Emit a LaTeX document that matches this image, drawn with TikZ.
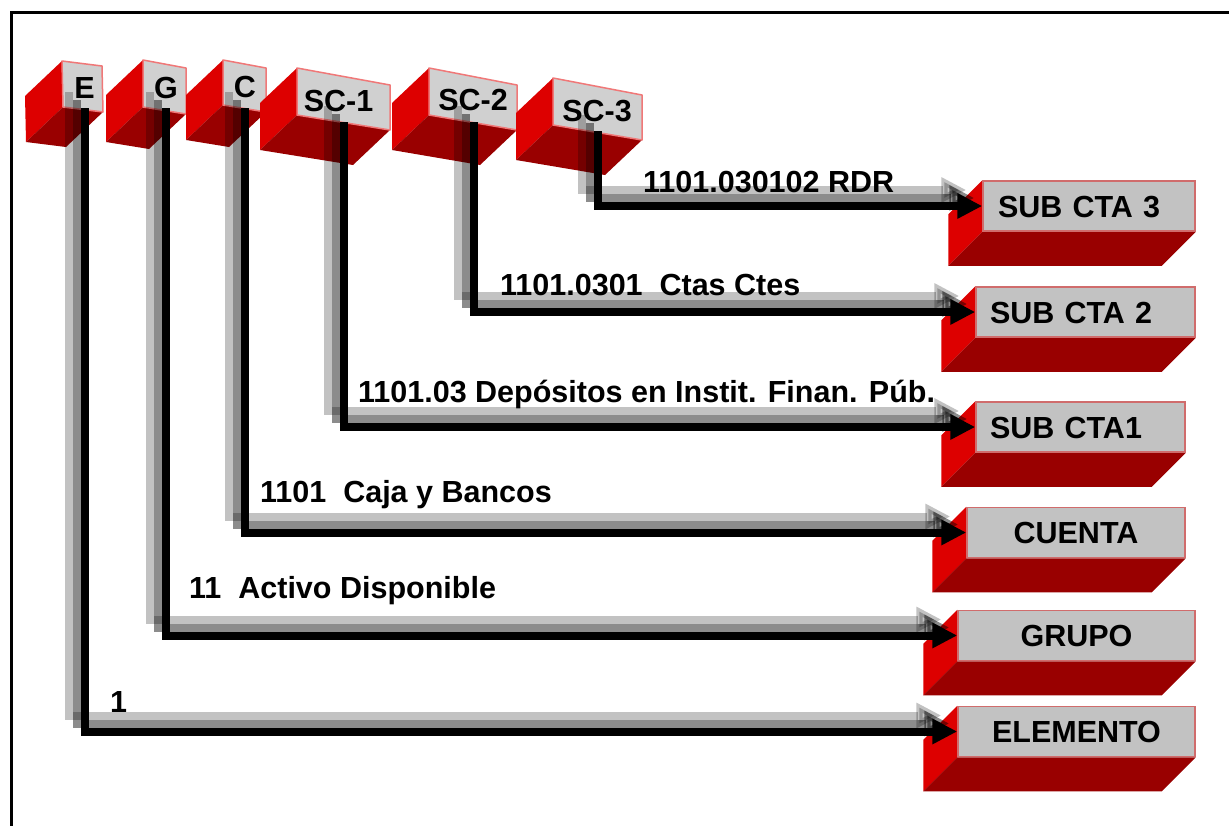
\documentclass[tikz,border=0pt]{standalone}
\usepackage{fontspec}
\setmainfont{Liberation Sans}
\usetikzlibrary{arrows.meta,calc}
\definecolor{redA}{HTML}{DD0000}
\definecolor{redB}{HTML}{990000}
\definecolor{faceT}{HTML}{D0D0D0}
\definecolor{faceR}{HTML}{C2C2C2}
\definecolor{edgeT}{HTML}{F07878}
\definecolor{edgeR}{HTML}{D06C6C}
\pgfdeclarelayer{bg}
\pgfsetlayers{bg,main}
\newcommand\mytopbox[8]{%
  \fill[redA] (#2) -- (#5) -- ($(#5)+(-37,35)$) -- ($(#2)+(-37,35)$) -- cycle;
  \fill[redB] (#5) -- (#4) -- ($(#4)+(-37,35)$) -- ($(#5)+(-37,35)$) -- cycle;
  \filldraw[fill=faceT, draw=edgeT, line width=1.5pt, line join=round] (#2) -- (#3) -- (#4) -- (#5) -- cycle;
  \node[toplbl] (#1) at (#6) {#7};
  \coordinate (#1b) at (#8);}
\newcommand\myrbox[6]{%
  \node[rface, text width=#3, inner xsep=#4, align=#5] (#1) at (#2) {#6};
  \begin{pgfonlayer}{bg}
  \fill[redA] (#1.north west) -- (#1.south west) -- ++(-34,34) -- ($(#1.north west)+(-34,34)$) -- cycle;
  \fill[redB] (#1.south west) -- (#1.south east) -- ++(-34,34) -- ($(#1.south west)+(-34,34)$) -- cycle;
  \end{pgfonlayer}}
\newcommand\myconn[2]{%
  \draw[shadowA] ([xshift=-16pt,yshift=16pt]#1) |- ([xshift=-16pt,yshift=16pt]#2);
  \draw[shadowB] ([xshift=-8pt,yshift=8pt]#1) |- ([xshift=-8pt,yshift=8pt]#2);
  \draw[connline] (#1) |- (#2);}
\begin{document}
\begin{tikzpicture}[x=1pt,y=-1pt,
  txt/.style={font=\fontsize{30.5}{36}\selectfont\bfseries},
  lbl/.style={txt, inner sep=0pt, anchor=base west},
  toplbl/.style={txt, inner sep=0pt, text height=22pt, text depth=0pt},
  rface/.style={txt, draw=edgeR, fill=faceR, line width=1.5pt, minimum height=50pt,
    inner ysep=0pt, text height=22pt, text depth=0pt},
  connline/.style={line width=8pt, -{Triangle[length=25pt,width=24pt]}},
  shadowA/.style={connline, opacity=0.24},
  shadowB/.style={connline, opacity=0.45}]
\begin{pgfonlayer}{bg}
\fill[white] (0,0) rectangle (1229,825);
\end{pgfonlayer}
\useasboundingbox (0,0) rectangle (1229,825);
\begin{scope}
  \clip (0,0) rectangle (1229,825);
  \draw[line width=3pt] (11.5,12.5) rectangle (1300,900);
\end{scope}

% top blocks
\mytopbox{E}{62,61}{102,66}{103,112}{63,107}{84.5,87}{E}{84.5,108}
\mytopbox{G}{143,60}{186,68}{186,114}{143,107}{166,87}{G}{165.5,108}
\mytopbox{C}{223,60}{266,68}{266,112}{223,105}{245,86}{C}{244.5,108}
\mytopbox{SCa}{297,68}{390,85}{390,130}{297,115}{338.5,100}{SC-1}{344,122}
\mytopbox{SCb}{429,68}{517,85}{517,130}{429,115}{473,99}{SC-2}{473.5,122}
\mytopbox{SCc}{553,78}{642,95}{642,140}{553,125}{597,110}{SC-3}{598,131}

% right blocks
\myrbox{s3}{1089,206}{182pt}{15pt}{left}{SUB CTA 3}
\myrbox{s2}{1085.5,312}{191pt}{14pt}{left}{SUB CTA 2}
\myrbox{s1}{1080.5,427}{181pt}{14pt}{left}{SUB CTA1}
\myrbox{cta}{1076,532.5}{208pt}{5pt}{center}{CUENTA}
\myrbox{grp}{1076.5,635.5}{227pt}{5pt}{center}{GRUPO}
\myrbox{elm}{1076.5,731.5}{227pt}{5pt}{center}{ELEMENTO}

% labels
\node[lbl] (t6) at (643,192) {1101.030102 RDR};
\node[lbl] (t5) at (500,295) {1101.0301\ \ Ctas Ctes};
\node[lbl] (t4) at (358,402) {1101.03 Depósitos en Instit. Finan. Púb.};
\node[lbl] (t3) at (260,502) {1101\ \ Caja y Bancos};
\node[lbl] (t2) at (189,598) {11\ \ Activo Disponible};
\node[lbl] (t1) at (110,712) {1};

% connectors
\myconn{Eb}{elm.west}
\myconn{Gb}{grp.west}
\myconn{Cb}{cta.west}
\myconn{SCab}{s1.west}
\myconn{SCbb}{s2.west}
\myconn{SCcb}{s3.west}
\end{tikzpicture}
\end{document}
